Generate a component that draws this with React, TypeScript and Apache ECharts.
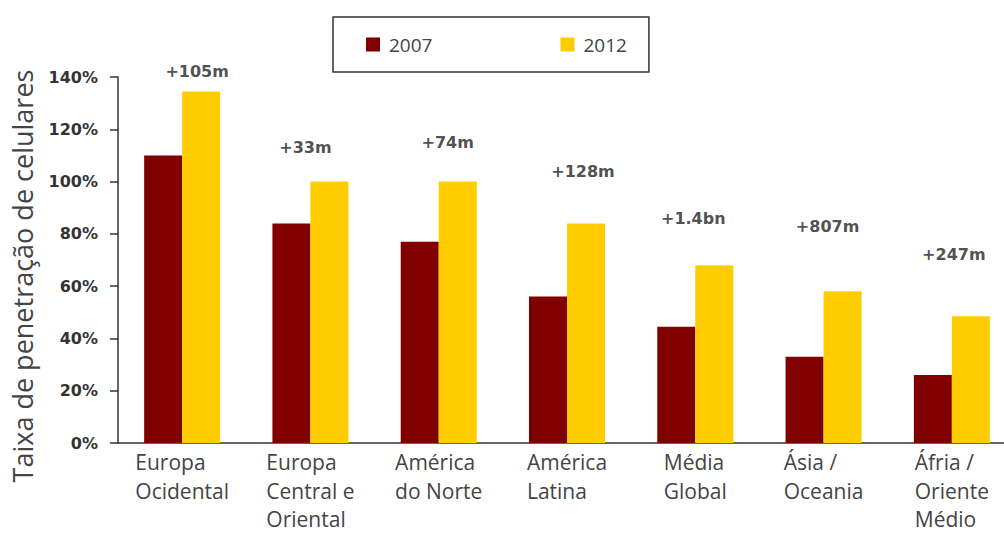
import React, { useEffect, useRef } from "react";
import * as echarts from "echarts";

const categories = [
  "Europa\nOcidental",
  "Europa\nCentral e\nOriental",
  "América\ndo Norte",
  "América\nLatina",
  "Média\nGlobal",
  "Ásia /\nOceania",
  "Áfria /\nOriente\nMédio",
];
const values2007 = [110, 84, 77, 56, 44.5, 33, 26];
const values2012 = [134.5, 100, 100, 84, 68, 58, 48.5];
const growthLabels = ["+105m", "+33m", "+74m", "+128m", "+1.4bn", "+807m", "+247m"];
const growthLabelLevels = [142, 113, 115, 104, 86, 83, 72];
const yTicks = { min: 0, max: 140, interval: 20 };

const labelDx = [15, -5, 9, 16, -2, 4, 2];

export default function App() {
  const ref = useRef<HTMLDivElement>(null);
  useEffect(() => {
    if (!ref.current) return;
    const chart = echarts.init(ref.current, null, { renderer: "svg" });
    chart.setOption({
      animation: false,
      backgroundColor: "#ffffff",
      grid: { left: 118, top: 77, bottom: 90, right: -12, outerBoundsMode: "none", containLabel: false },
      legend: {
        data: ["2007", "2012"],
        left: 333,
        top: 17,
        padding: [18, 22, 18, 33],
        itemGap: 128,
        itemWidth: 14,
        itemHeight: 14,
        icon: "rect",
        borderColor: "#333",
        borderWidth: 1.5,
        textStyle: { fontFamily: "Open Sans", fontSize: 19, color: "#444", padding: [0, 0, 0, 4] },
      },
      xAxis: {
        type: "category",
        data: categories,
        axisLine: { lineStyle: { color: "#333", width: 1.5 } },
        axisTick: { length: 6, lineStyle: { color: "#333", width: 1.5 } },
        axisLabel: {
          fontFamily: "Open Sans",
          fontSize: 21,
          lineHeight: 28.5,
          color: "#444",
          margin: 5,
          interval: 0,
          formatter: (v: string) =>
            v
              .split("\n")
              .map((l) => `{a|${l}}`)
              .join("\n"),
          rich: {
            a: {
              fontFamily: "Open Sans",
              fontSize: 21,
              lineHeight: 28.5,
              color: "#444",
              align: "left",
            },
          },
        },
      },
      yAxis: {
        type: "value",
        min: yTicks.min,
        max: yTicks.max,
        interval: yTicks.interval,
        splitLine: { show: false },
        axisLine: { show: true, lineStyle: { color: "#333", width: 1.5 } },
        axisTick: { show: true, length: 8, lineStyle: { color: "#333", width: 1.5 } },
        axisLabel: {
          formatter: "{value}%",
          fontFamily: "DejaVu Sans",
          fontWeight: "bold",
          fontSize: 16,
          color: "#333",
          margin: 20,
        },
      },
      graphic: [
        {
          type: "text",
          x: 22,
          y: 276,
          rotation: Math.PI / 2,
          style: {
            text: "Taixa de penetração de celulares",
            fontFamily: "Open Sans",
            fontSize: 27,
            fill: "#444",
            align: "center",
            verticalAlign: "middle",
          },
        },
      ],
      series: [
        {
          name: "2007",
          type: "bar",
          data: values2007,
          barWidth: 38,
          barGap: "0%",
          itemStyle: { color: "#800000" },
        },
        {
          name: "2012",
          type: "bar",
          data: values2012,
          barWidth: 38,
          barGap: "0%",
          itemStyle: { color: "#FFCC00" },
        },
        {
          name: "growth",
          type: "scatter",
          symbolSize: 0,
          silent: true,
          clip: false,
          data: growthLabelLevels.map((v, i) => ({
            value: v,
            label: { offset: [labelDx[i], 0] },
          })),
          label: {
            show: true,
            position: "inside",
            formatter: (p: any) => growthLabels[p.dataIndex],
            fontFamily: "DejaVu Sans",
            fontWeight: "bold",
            fontSize: 16,
            color: "#222",
          },
        },
      ],
    });
    return () => chart.dispose();
  }, []);
  return (
    <div
      ref={ref}
      style={{ position: "fixed", left: 0, top: 0, width: 1004, height: 533 }}
    />
  );
}
